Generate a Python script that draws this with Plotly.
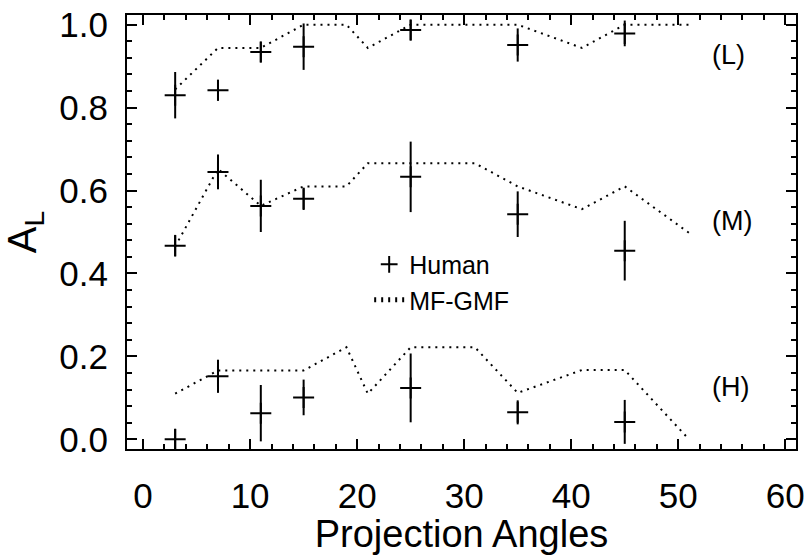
import plotly.graph_objects as go

# Human measurements (angles, mean, error) for the three groups
human_angles = [3, 7, 11, 15, 25, 35, 45]
human_L = [0.83, 0.842, 0.934, 0.947, 0.987, 0.951, 0.979]
human_L_err = [0.056, 0.025, 0.025, 0.056, 0.025, 0.040, 0.031]
human_M = [0.467, 0.645, 0.563, 0.580, 0.633, 0.543, 0.455]
human_M_err = [0.026, 0.042, 0.063, 0.027, 0.085, 0.055, 0.072]
human_H = [0.0, 0.152, 0.063, 0.101, 0.124, 0.065, 0.042]
human_H_err = [0.025, 0.040, 0.068, 0.043, 0.083, 0.029, 0.053]

# MF-GMF model curves
model_angles = [3, 7, 11, 15, 19, 21, 25, 31, 35, 41, 45, 51]
model_L = [0.844, 0.944, 0.944, 1.0, 1.0, 0.944, 1.0, 1.0, 1.0, 0.944, 1.0, 1.0]
model_M = [0.465, 0.652, 0.563, 0.61, 0.61, 0.666, 0.666, 0.666, 0.61, 0.555, 0.61, 0.498]
model_H = [0.11, 0.166, 0.166, 0.166, 0.222, 0.11, 0.222, 0.222, 0.112, 0.167, 0.167, 0.0]

group_labels = ["(L)", "(M)", "(H)"]
label_x = [53, 53, 53]
label_y = [0.9, 0.5, 0.1]

FONT = "Liberation Sans, Arial, Helvetica, sans-serif"

fig = go.Figure()

hx = human_angles * 3
hy = human_L + human_M + human_H
he = human_L_err + human_M_err + human_H_err
fig.add_trace(go.Scatter(
    x=hx, y=hy, mode="markers", name="Human",
    marker=dict(symbol="cross-thin", size=15, color="black",
                line=dict(color="black", width=2)),
    error_y=dict(type="data", array=he, visible=True, color="black",
                 thickness=2, width=0),
))

for i, series in enumerate([model_L, model_M, model_H]):
    fig.add_trace(go.Scatter(
        x=model_angles, y=series, mode="lines", name="MF-GMF",
        legendgroup="model", showlegend=(i == 0),
        line=dict(color="black", width=2, dash="2px,5px"),
    ))

for lab, lx, ly in zip(group_labels, label_x, label_y):
    fig.add_annotation(x=lx, y=ly, text=lab, showarrow=False,
                       font=dict(family=FONT, size=27, color="black"),
                       xanchor="left", yanchor="bottom", yshift=-6)

axis_common = dict(
    showgrid=False, zeroline=False, showline=True, linecolor="black",
    linewidth=2, mirror="ticks", ticks="inside", ticklen=10, tickwidth=2,
    tickcolor="black", tickfont=dict(family=FONT, size=35, color="black"),
    ticklabeloverflow="allow",
)

fig.update_xaxes(
    range=[-1.5, 61], tickmode="linear", tick0=0, dtick=10,
    minor=dict(ticks="inside", ticklen=5, tickwidth=2, dtick=2, tick0=0, tickcolor="black"),
    ticklabelstandoff=15,
    title=dict(text="Projection Angles", font=dict(family=FONT, size=38, color="black"), standoff=8),
    **axis_common,
)
fig.update_yaxes(
    range=[-0.0234, 1.0234], tickmode="linear", tick0=0, dtick=0.2, tickformat=".1f",
    minor=dict(ticks="inside", ticklen=5, tickwidth=2, dtick=0.04, tick0=0, tickcolor="black"),
    ticklabelstandoff=10,
    title=dict(text="A<sub>L</sub>", font=dict(family=FONT, size=40, color="black"), standoff=12),
    **axis_common,
)

fig.update_layout(
    width=810, height=555,
    margin=dict(l=127, r=7, t=5, b=103),
    paper_bgcolor="white", plot_bgcolor="white",
    showlegend=True,
    legend=dict(x=0.362, y=0.478, xanchor="left", yanchor="top",
                bgcolor="rgba(0,0,0,0)", borderwidth=0,
                font=dict(family=FONT, size=25, color="black"),
                tracegroupgap=0, itemsizing="constant"),
)

fig.write_html("out.html",
               config={"displayModeBar": False},
               post_script="document.body.style.margin='0px';document.body.style.overflow='hidden';")
